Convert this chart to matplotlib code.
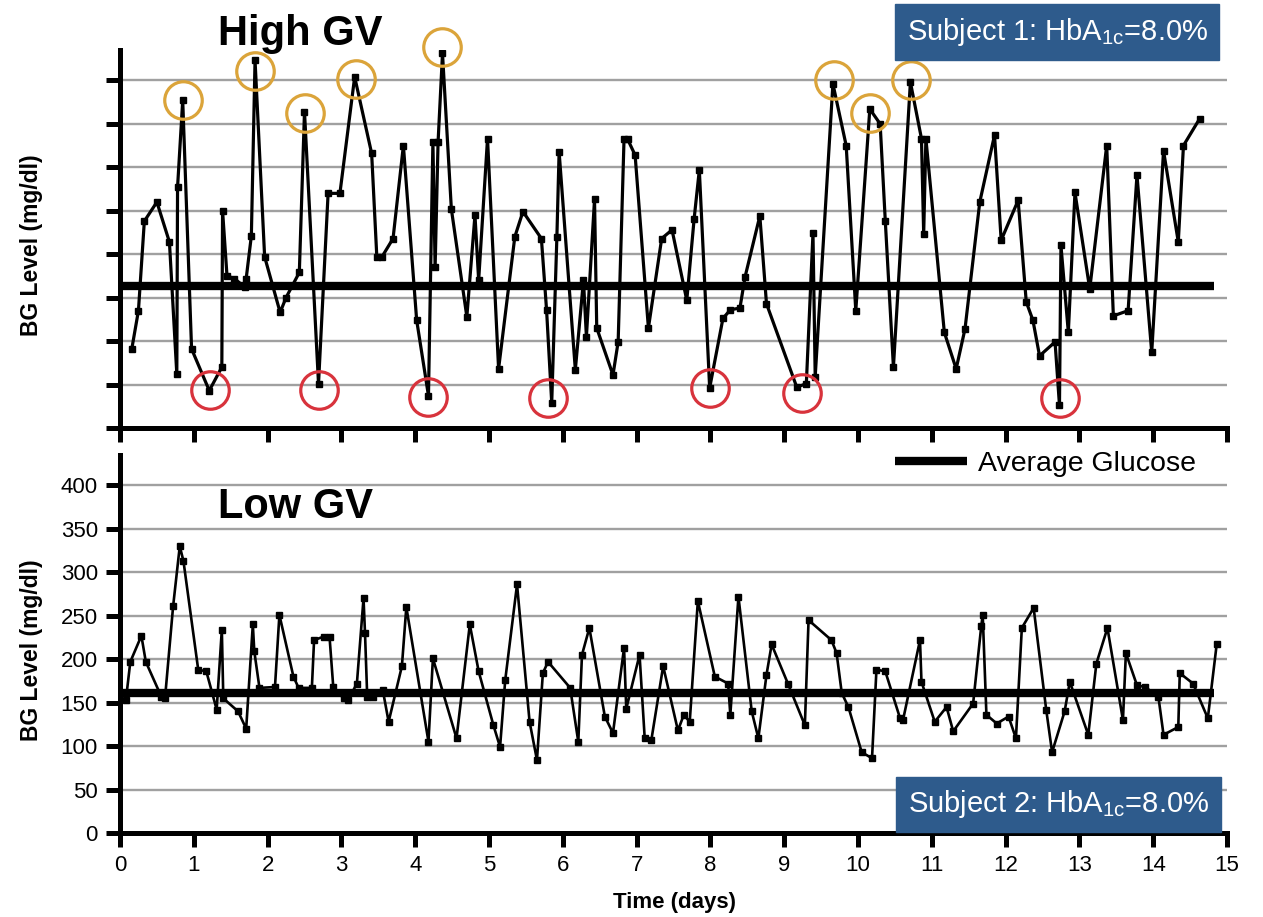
"""
Two-panel glucose variability chart: high GV subject (top) vs low GV subject (bottom).
"""

import matplotlib
matplotlib.use("Agg")
import matplotlib.pyplot as plt
from matplotlib.lines import Line2D

plt.rcParams["font.family"] = ["Liberation Sans", "DejaVu Sans"]

# --- data (days, mg/dl) ---
high_days = [0.16, 0.25, 0.33, 0.50, 0.67, 0.77, 0.78, 0.85, 0.97, 1.21, 1.38, 1.39, 1.45,
             1.55, 1.69, 1.71, 1.78, 1.83, 1.96, 2.17, 2.25, 2.43, 2.50, 2.69, 2.82, 2.98,
             3.18, 3.41, 3.48, 3.55, 3.70, 3.84, 4.02, 4.18, 4.24, 4.27, 4.31, 4.37, 4.49,
             4.70, 4.81, 4.86, 4.98, 5.13, 5.35, 5.46, 5.71, 5.78, 5.85, 5.92, 5.95, 6.17,
             6.28, 6.32, 6.43, 6.46, 6.68, 6.75, 6.83, 6.88, 6.98, 7.16, 7.34, 7.48, 7.68,
             7.78, 7.85, 7.99, 8.17, 8.27, 8.40, 8.47, 8.67, 8.76, 9.17, 9.30, 9.39, 9.42,
             9.66, 9.84, 9.97, 10.16, 10.30, 10.37, 10.48, 10.71, 10.86, 10.89, 10.92,
             11.17, 11.33, 11.45, 11.65, 11.85, 11.94, 12.17, 12.28, 12.37, 12.46, 12.67,
             12.73, 12.75, 12.85, 12.94, 13.14, 13.37, 13.46, 13.66, 13.78, 13.98, 14.14,
             14.34, 14.41, 14.63]
high_bg = [91, 135, 238, 260, 214, 62, 277, 377, 91, 43, 70, 250, 175,
           172, 162, 172, 221, 423, 197, 133, 150, 179, 364, 51, 270, 270,
           404, 316, 197, 197, 218, 325, 124, 37, 329, 185, 329, 431, 252,
           128, 245, 170, 333, 68, 220, 249, 218, 136, 29, 220, 318, 67,
           170, 105, 263, 115, 61, 99, 333, 332, 314, 115, 218, 228, 147,
           241, 297, 46, 126, 136, 138, 174, 244, 143, 47, 51, 224, 59,
           396, 325, 135, 367, 350, 238, 70, 398, 333, 223, 333,
           110, 68, 114, 260, 337, 216, 262, 145, 124, 83, 99,
           26, 210, 110, 271, 160, 325, 129, 135, 291, 87, 319,
           214, 325, 356]

low_days = [0.08, 0.14, 0.29, 0.35, 0.56, 0.61, 0.72, 0.81, 0.86, 1.06, 1.17, 1.31, 1.38,
            1.40, 1.60, 1.71, 1.80, 1.82, 1.89, 2.10, 2.16, 2.35, 2.42, 2.60, 2.63, 2.76,
            2.84, 2.89, 3.03, 3.09, 3.21, 3.30, 3.32, 3.35, 3.43, 3.56, 3.64, 3.82, 3.88,
            4.18, 4.24, 4.56, 4.74, 4.86, 5.06, 5.15, 5.22, 5.38, 5.55, 5.65, 5.73, 5.80,
            6.10, 6.21, 6.26, 6.36, 6.57, 6.68, 6.83, 6.86, 7.04, 7.11, 7.20, 7.36, 7.56,
            7.64, 7.72, 7.83, 8.06, 8.24, 8.27, 8.38, 8.56, 8.65, 8.76, 8.83, 9.05, 9.28,
            9.33, 9.64, 9.71, 9.78, 9.87, 10.05, 10.19, 10.25, 10.37, 10.57, 10.61, 10.84,
            10.86, 11.04, 11.20, 11.29, 11.56, 11.67, 11.69, 11.74, 11.88, 12.04, 12.14,
            12.22, 12.38, 12.55, 12.63, 12.80, 12.87, 13.12, 13.23, 13.38, 13.59, 13.63,
            13.78, 13.89, 14.07, 14.14, 14.34, 14.36, 14.54, 14.74, 14.86]
low_bg = [153, 197, 227, 197, 157, 155, 261, 330, 313, 188, 186, 142, 234,
          155, 140, 120, 240, 209, 167, 168, 251, 180, 167, 167, 222, 226,
          225, 168, 155, 153, 172, 270, 230, 157, 157, 165, 128, 192, 260,
          105, 201, 109, 240, 186, 124, 99, 176, 286, 128, 84, 184, 197,
          167, 105, 205, 236, 134, 115, 213, 143, 205, 109, 107, 192, 118,
          136, 128, 267, 180, 172, 136, 272, 140, 109, 182, 217, 172, 124,
          245, 222, 207, 161, 145, 93, 86, 188, 186, 132, 130, 222,
          174, 128, 145, 117, 149, 238, 251, 136, 126, 134, 109,
          236, 259, 142, 93, 140, 174, 113, 195, 236, 130, 207,
          170, 168, 157, 113, 122, 184, 172, 132, 217]

high_avg = 163
low_avg = 161
avg_span = [0.03, 14.82]

# circled extremes in the top panel
hyper_days = [0.85, 1.83, 2.51, 3.20, 4.37, 9.67, 10.16, 10.72]
hyper_bg = [377, 411, 362, 402, 438, 400, 362, 400]
hypo_days = [1.22, 2.70, 4.18, 5.80, 7.99, 9.24, 12.74]
hypo_bg = [44, 44, 36, 34, 46, 40, 34]

y_ticks = [0, 50, 100, 150, 200, 250, 300, 350, 400]
x_ticks = list(range(16))
grid_levels = [50, 100, 150, 200, 250, 300, 350, 400]


def style_axes(ax, show_labels):
    ax.set_xlim(0, 15)
    ax.set_ylim(0, 435)
    for side in ("top", "right"):
        ax.spines[side].set_visible(False)
    for side in ("left", "bottom"):
        ax.spines[side].set_linewidth(3.6)
    ax.set_xticks(x_ticks)
    ax.set_yticks(y_ticks)
    ax.tick_params(direction="out", length=10, width=3.6, labelsize=16, pad=6,
                   labelleft=show_labels, labelbottom=show_labels)
    for g in grid_levels:
        ax.axhline(g, color="#a0a0a0", lw=1.7, zorder=1)


fig = plt.figure(figsize=(12.63, 9.17), dpi=100)
ax1 = fig.add_axes([0.095, 0.5333, 0.8765, 0.4122])
ax2 = fig.add_axes([0.095, 0.0916, 0.8765, 0.4122])

# top: high GV
style_axes(ax1, False)
ax1.plot(high_days, high_bg, color="black", lw=2.3, marker="s", ms=4, zorder=3)
ax1.plot(avg_span, [high_avg, high_avg], color="black", lw=6, solid_capstyle="butt", zorder=4)
ax1.plot(hyper_days, hyper_bg, ls="none", marker="o", ms=27, mfc="none",
         mec="#dba43a", mew=2.3, zorder=5, clip_on=False)
ax1.plot(hypo_days, hypo_bg, ls="none", marker="o", ms=27, mfc="none",
         mec="#d8333c", mew=2.3, zorder=5, clip_on=False)

# bottom: low GV
style_axes(ax2, True)
ax2.plot(low_days, low_bg, color="black", lw=1.9, marker="s", ms=4, zorder=3)
ax2.plot(avg_span, [low_avg, low_avg], color="black", lw=6, solid_capstyle="butt", zorder=4)

handle = Line2D([], [], color="black", lw=6, solid_capstyle="butt")
ax2.legend([handle], ["Average Glucose"], loc="upper right",
           bbox_to_anchor=(0.947, 0.508), bbox_transform=fig.transFigure,
           frameon=False, fontsize=20.5, handlelength=2.5, handletextpad=0.4,
           borderpad=0, borderaxespad=0)

box = dict(boxstyle="square,pad=0.4", facecolor="#2e5b8c", edgecolor="#2e5b8c")
fig.text(0.837, 0.965, r"Subject 1: HbA$_{\mathregular{1c}}$=8.0%", color="white",
         fontsize=21, ha="center", va="center", bbox=box)
fig.text(0.838, 0.123, r"Subject 2: HbA$_{\mathregular{1c}}$=8.0%", color="white",
         fontsize=21, ha="center", va="center", bbox=box)

fig.text(0.1726, 0.951, "High GV", fontsize=30, fontweight="bold", ha="left", va="baseline")
fig.text(0.1726, 0.435, "Low GV", fontsize=30, fontweight="bold", ha="left", va="baseline")

fig.text(0.025, 0.733, "BG Level (mg/dl)", fontsize=16.5, fontweight="bold",
         rotation=90, ha="center", va="center")
fig.text(0.025, 0.291, "BG Level (mg/dl)", fontsize=16.5, fontweight="bold",
         rotation=90, ha="center", va="center")
fig.text(0.534, 0.0153, "Time (days)", fontsize=16, fontweight="bold", ha="center", va="center")

fig.savefig("out.png", dpi=100)
plt.close(fig)
